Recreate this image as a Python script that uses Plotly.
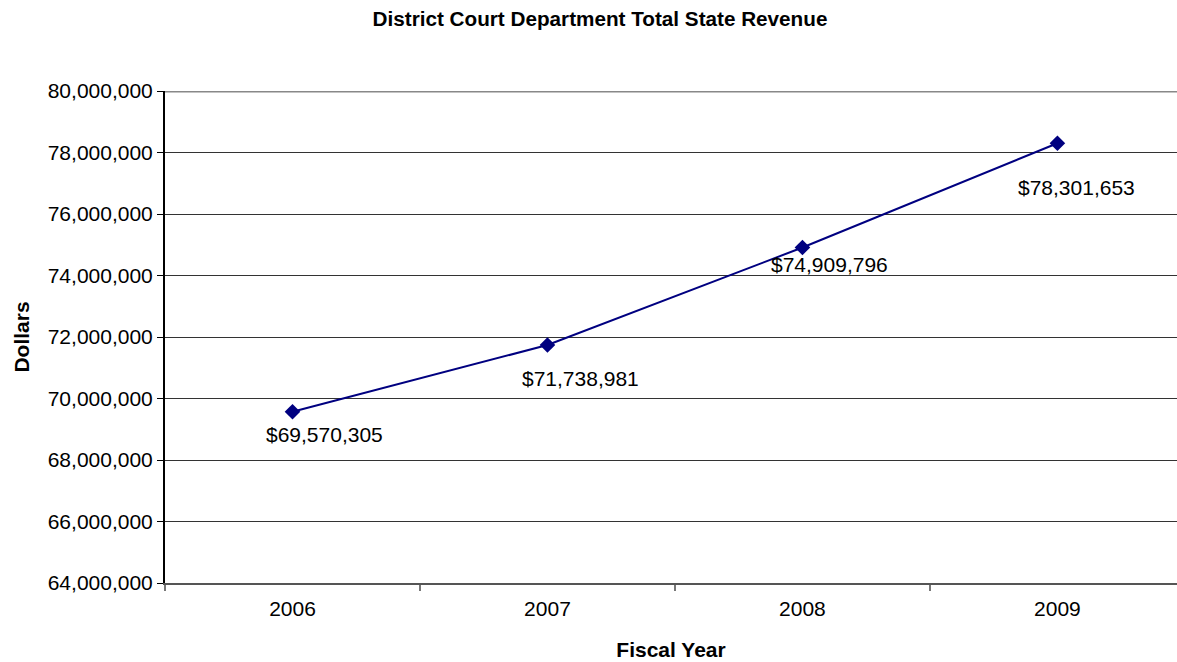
import plotly.graph_objects as go

years = ["2006", "2007", "2008", "2009"]
revenue = [69570305, 71738981, 74909796, 78301653]
y_ticks = list(range(64000000, 80000001, 2000000))

# label offsets relative to each point (pixels, right / down)
label_dx = [32, 33, 27, 19]
label_dy = [23, 33, 17, 44]

fig = go.Figure()
fig.add_trace(go.Scatter(
    x=years, y=revenue, mode="lines+markers",
    line=dict(color="#000080", width=2),
    marker=dict(symbol="diamond", size=12, color="#000080"),
    hoverinfo="skip", showlegend=False,
))

for i, v in enumerate(revenue):
    fig.add_annotation(x=i, y=v, xref="x", yref="y", text=f"${v:,}",
                       showarrow=False, xshift=label_dx[i], yshift=-label_dy[i],
                       font=dict(size=21, color="#000000"))

fig.update_layout(
    width=1177, height=662,
    margin=dict(l=165, r=0, t=91, b=79),
    plot_bgcolor="white", paper_bgcolor="white",
    font=dict(family="Liberation Sans, Arial, sans-serif", color="#000000"),
    title=dict(text="<b>District Court Department Total State Revenue</b>",
               x=600 / 1177, xanchor="center", y=1 - 19 / 662, yanchor="middle",
               font=dict(size=20.7)),
)
fig.update_xaxes(
    type="category", range=[-0.5, 3.469],
    showgrid=False, showline=True, linecolor="#555555", linewidth=2,
    ticks="outside", tickson="boundaries", ticklen=6, tickcolor="#777777", tickwidth=2,
    tickfont=dict(size=21), ticklabelstandoff=6,
    title=dict(text="<b>Fiscal Year</b>", font=dict(size=21), standoff=23),
    zeroline=False,
)
fig.update_yaxes(
    range=[64000000, 80000000], tickmode="array", tickvals=y_ticks,
    ticktext=[f"{t:,}" for t in y_ticks],
    showgrid=True, gridcolor="#333333", gridwidth=1,
    showline=True, linecolor="#000000", linewidth=2,
    ticks="outside", ticklen=6, tickcolor="#000000", tickfont=dict(size=21),
    title=dict(text="<b>Dollars</b>", font=dict(size=21), standoff=12),
    zeroline=False,
)
fig.add_shape(type="line", xref="paper", yref="y", x0=0, x1=1, y0=80000000, y1=80000000,
              line=dict(color="#888888", width=3))

fig.write_html("out.html", config={"displayModeBar": False},
               post_script="document.body.style.margin='0';")
